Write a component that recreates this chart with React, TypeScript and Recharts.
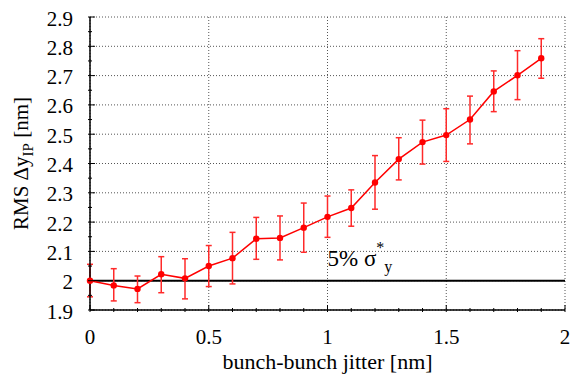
import React from 'react';
import {
  ComposedChart,
  Line,
  XAxis,
  YAxis,
  CartesianGrid,
  ErrorBar,
  ReferenceLine,
  ReferenceDot,
} from 'recharts';

// bunch-bunch jitter [nm]
const jitter = [0, 0.1, 0.2, 0.3, 0.4, 0.5, 0.6, 0.7, 0.8, 0.9, 1.0, 1.1, 1.2, 1.3, 1.4, 1.5, 1.6, 1.7, 1.8, 1.9];
// RMS delta y at IP [nm], with lower / upper error bounds
const rms = [2.0, 1.984, 1.972, 2.022, 2.008, 2.05, 2.077, 2.143, 2.146, 2.181, 2.218, 2.248, 2.335, 2.415, 2.473, 2.497, 2.55, 2.646, 2.701, 2.759];
const rmsLow = [1.945, 1.931, 1.925, 1.959, 1.938, 1.98, 1.989, 2.073, 2.071, 2.097, 2.148, 2.186, 2.244, 2.344, 2.398, 2.407, 2.467, 2.577, 2.618, 2.691];
const rmsHigh = [2.056, 2.041, 2.016, 2.082, 2.075, 2.12, 2.165, 2.216, 2.221, 2.265, 2.289, 2.31, 2.427, 2.488, 2.548, 2.587, 2.63, 2.716, 2.785, 2.826];

const sigmaLevel = 2.0;

const xDomain = [0, 2];
const yDomain = [1.9, 2.9];
const xTicks = [0, 0.1, 0.2, 0.3, 0.4, 0.5, 0.6, 0.7, 0.8, 0.9, 1, 1.1, 1.2, 1.3, 1.4, 1.5, 1.6, 1.7, 1.8, 1.9, 2];
const xMajor = [0, 0.5, 1, 1.5, 2];
const yTicks = [1.9, 1.95, 2, 2.05, 2.1, 2.15, 2.2, 2.25, 2.3, 2.35, 2.4, 2.45, 2.5, 2.55, 2.6, 2.65, 2.7, 2.75, 2.8, 2.85, 2.9];
const yMajor = [1.9, 2, 2.1, 2.2, 2.3, 2.4, 2.5, 2.6, 2.7, 2.8, 2.9];

const data = jitter.map((x, i) => ({
  x,
  rms: rms[i],
  err: [rms[i] - rmsLow[i], rmsHigh[i] - rms[i]],
}));

const serif: React.CSSProperties = { fontFamily: "'Liberation Serif', 'Times New Roman', serif" };
const MAJOR = 7;
const MINOR = 4;

const isMajor = (v: number, majors: number[]) => majors.some((m) => Math.abs(m - v) < 1e-6);

const BottomTick = ({ x, y, payload }: any) => {
  const major = isMajor(payload.value, xMajor);
  return (
    <g>
      <line x1={x} x2={x} y1={y} y2={y - (major ? MAJOR : MINOR)} stroke="#000" />
      {major && (
        <text x={x} y={y + 32} textAnchor="middle" style={serif} fontSize={21} fill="#000">
          {String(payload.value)}
        </text>
      )}
    </g>
  );
};

const TopTick = ({ x, y, payload }: any) => {
  const major = isMajor(payload.value, xMajor);
  return <line x1={x} x2={x} y1={y} y2={y + (major ? MAJOR : MINOR)} stroke="#000" />;
};

const LeftTick = ({ x, y, payload }: any) => {
  const major = isMajor(payload.value, yMajor);
  return (
    <g>
      <line x1={x} x2={x + (major ? MAJOR : MINOR)} y1={y} y2={y} stroke="#000" />
      {major && (
        <text x={x - 15} y={y + 8.5} textAnchor="end" style={serif} fontSize={21} fill="#000">
          {String(payload.value)}
        </text>
      )}
    </g>
  );
};

const RightTick = ({ x, y, payload }: any) => {
  const major = isMajor(payload.value, yMajor);
  return <line x1={x} x2={x - (major ? MAJOR : MINOR)} y1={y} y2={y} stroke="#000" />;
};

const YLabel = (props: any) => {
  const vb = props.viewBox || {};
  const cx = vb.x + 28;
  const cy = vb.y + vb.height / 2;
  return (
    <text x={cx} y={cy} transform={`rotate(-90 ${cx} ${cy})`} textAnchor="middle" style={serif} fontSize={21} fill="#000">
      <tspan>RMS Δy</tspan>
      <tspan fontSize={15} dy={5}>IP</tspan>
      <tspan dy={-5}> [nm]</tspan>
    </text>
  );
};

const XLabel = (props: any) => {
  const vb = props.viewBox || {};
  return (
    <text x={vb.x + vb.width / 2} y={vb.y + 59} textAnchor="middle" style={serif} fontSize={22} fill="#000">
      bunch-bunch jitter [nm]
    </text>
  );
};

const SigmaLabel = (props: any) => {
  const vb = props.viewBox || {};
  return (
    <text x={vb.x} y={vb.y} style={serif} fontSize={23} fill="#000">
      <tspan>5% σ</tspan>
      <tspan fontSize={16} dy={-13}>*</tspan>
      <tspan fontSize={16} dy={19}>y</tspan>
    </text>
  );
};

// grid lines only at the major ticks
const gridY = ({ yAxis, offset }: any) =>
  yMajor.map((v) =>
    yAxis && typeof yAxis.scale === 'function'
      ? yAxis.scale(v)
      : offset.top + ((yDomain[1] - v) / (yDomain[1] - yDomain[0])) * offset.height
  );
const gridX = ({ xAxis, offset }: any) =>
  xMajor.map((v) =>
    xAxis && typeof xAxis.scale === 'function'
      ? xAxis.scale(v)
      : offset.left + ((v - xDomain[0]) / (xDomain[1] - xDomain[0])) * offset.width
  );

const App: React.FC = () => {
  return (
    <div style={{ width: 575, height: 374, background: '#fff' }}>
      <style>{'body{margin:0;}'}</style>
      <ComposedChart width={575} height={374} data={data} margin={{ top: 17, right: 10, bottom: 0, left: 0 }}>
        <CartesianGrid
          stroke="#555"
          strokeDasharray="1 2"
          horizontalCoordinatesGenerator={gridY}
          verticalCoordinatesGenerator={gridX}
        />
        <XAxis
          dataKey="x"
          type="number"
          domain={xDomain}
          ticks={xTicks}
          interval={0}
          height={64}
          tickSize={0}
          tickLine={false}
          tick={BottomTick}
          axisLine={{ stroke: '#000', strokeWidth: 1.5 }}
          label={XLabel}
        />
        <XAxis
          xAxisId="top"
          orientation="top"
          dataKey="x"
          type="number"
          domain={xDomain}
          ticks={xTicks}
          interval={0}
          height={0}
          tickSize={0}
          tickLine={false}
          tick={TopTick}
          axisLine={{ stroke: '#000', strokeWidth: 1.5 }}
        />
        <YAxis
          type="number"
          domain={yDomain}
          ticks={yTicks}
          interval={0}
          width={90}
          tickSize={0}
          tickLine={false}
          tick={LeftTick}
          axisLine={{ stroke: '#000', strokeWidth: 1.5 }}
          label={YLabel}
        />
        <YAxis
          yAxisId="right"
          orientation="right"
          type="number"
          domain={yDomain}
          ticks={yTicks}
          interval={0}
          width={0}
          tickSize={0}
          tickLine={false}
          tick={RightTick}
          axisLine={{ stroke: '#000', strokeWidth: 1.5 }}
        />
        <ReferenceLine y={sigmaLevel} stroke="#000" strokeWidth={2} />
        <ReferenceDot x={1} y={2.05} r={0} fill="none" stroke="none" label={SigmaLabel} />
        <Line
          dataKey="rms"
          type="linear"
          stroke="#ff0000"
          strokeWidth={1.5}
          dot={{ r: 3.2, fill: '#ff0000', stroke: '#ff0000', strokeWidth: 0 }}
          isAnimationActive={false}
        >
          <ErrorBar dataKey="err" direction="y" width={3} stroke="#ff2a2a" strokeWidth={1.5} isAnimationActive={false} />
        </Line>
      </ComposedChart>
    </div>
  );
};

export default App;
